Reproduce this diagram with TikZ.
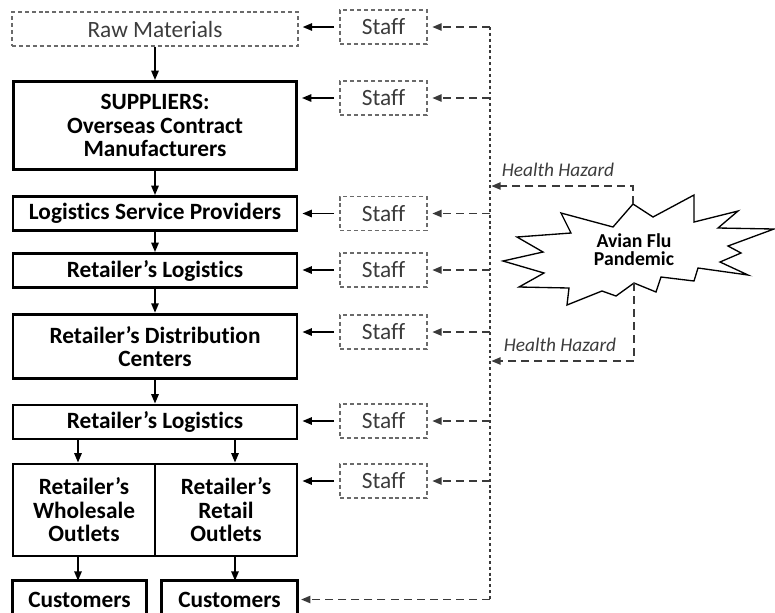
\documentclass[tikz,border=0pt]{standalone}
\usepackage{fontspec}
\setmainfont{Carlito}[Ligatures={NoCommon}]
\usetikzlibrary{arrows.meta}

\definecolor{dashgray}{HTML}{6A6A6A}
\definecolor{textgray}{HTML}{3C3C3C}
\definecolor{feedgray}{HTML}{3A3A3A}

\tikzset{
  mainbox/.style={draw=black, line width=2.2pt, inner sep=0pt, align=center,
    font=\fontsize{17.5}{17.6}\selectfont\bfseries, text=black},
  endbox/.style={inner sep=0pt, align=center, text height=17pt, text depth=0pt,
    font=\fontsize{17.5}{17.6}\selectfont\bfseries, text=black},
  frame/.style={draw=black, line width=2.2pt},
  dashbox/.style={draw=dashgray, line width=1pt, dash pattern=on 3pt off 2.2pt,
    inner sep=0pt, align=center, font=\fontsize{17.5}{18}\selectfont, text=textgray},
  tip/.tip={Triangle[length=7pt,width=5.5pt]},
  flow/.style={line width=1.2pt, -tip},
  feed/.style={draw=feedgray, line width=1.2pt, dash pattern=on 6pt off 3.8pt, -tip,
    shorten >=3.5pt},
  spine/.style={draw=feedgray, line width=1.2pt, dash pattern=on 2.2pt off 2.2pt},
  hazlabel/.style={font=\fontsize{14.5}{16}\selectfont\itshape, text=textgray, inner sep=0pt},
  starline/.style={draw=black, line width=1pt, line join=miter},
}

\begin{document}
\begin{tikzpicture}[x=0.75pt,y=-0.75pt]
  \useasboundingbox (0,0) rectangle (775,612);
  \clip (0,0) rectangle (775,612);

  % supply chain stages
  \node[dashbox, minimum width=214.5pt, minimum height=25.5pt]
    (raw) at (155,29) {Raw Materials};
  \node[mainbox, minimum width=212.25pt, minimum height=66pt]
    (sup) at (155,125.5) {SUPPLIERS:\\Overseas Contract\\Manufacturers};
  \node[mainbox, minimum width=213pt, minimum height=25.5pt]
    (lsp) at (155,213.5) {Logistics Service Providers};
  \node[mainbox, minimum width=213pt, minimum height=25.5pt]
    (rla) at (155,270.5) {Retailer’s Logistics};
  \node[mainbox, minimum width=213pt, minimum height=48.5pt]
    (rdc) at (155,346.5) {Retailer’s Distribution\\Centers};
  \node[mainbox, minimum width=213pt, minimum height=25.5pt]
    (rlb) at (155,422) {Retailer’s Logistics};
  \node[mainbox, minimum width=106.5pt, minimum height=69pt]
    (whole) at (84,510) {Retailer’s\\Wholesale\\Outlets};
  \node[mainbox, minimum width=106.5pt, minimum height=69pt]
    (retail) at (226,510) {Retailer’s\\Retail\\Outlets};

  % customer boxes, running past the lower edge
  \node[endbox, minimum width=100pt, minimum height=22.5pt]
    (custa) at (79.5,596) {Customers};
  \node[endbox, minimum width=101pt, minimum height=22.5pt]
    (custb) at (229.5,596) {Customers};
  \draw[frame] (custa.south west) ++(0,8) |- (custa.north east) -- ++(0,40);
  \draw[frame] (custb.south west) ++(0,8) |- (custb.north east) -- ++(0,40);

  % staff boxes
  \node[dashbox, minimum width=65.25pt, minimum height=25.5pt] (sa) at (383.5,27) {Staff};
  \node[dashbox, minimum width=65.25pt, minimum height=25.5pt] (sb) at (383.5,98) {Staff};
  \node[dashbox, minimum width=65.25pt, minimum height=25.5pt] (sc) at (383.5,213.5) {Staff};
  \node[dashbox, minimum width=65.25pt, minimum height=25.5pt] (sd) at (383.5,270) {Staff};
  \node[dashbox, minimum width=65.25pt, minimum height=25.5pt] (se) at (383.5,332) {Staff};
  \node[dashbox, minimum width=65.25pt, minimum height=25.5pt] (sf) at (383.5,421) {Staff};
  \node[dashbox, minimum width=65.25pt, minimum height=25.5pt] (sg) at (383.5,481) {Staff};

  % flow down the chain
  \coordinate (wa) at (78,0);
  \coordinate (ra) at (235,0);
  \draw[flow] (raw.south) -- (sup.north);
  \draw[flow] (sup.south) -- (lsp.north);
  \draw[flow] (lsp.south) -- (rla.north);
  \draw[flow] (rla.south) -- (rdc.north);
  \draw[flow] (rdc.south) -- (rlb.north);
  \draw[flow] (rlb.south -| wa) -- (whole.north -| wa);
  \draw[flow] (rlb.south -| ra) -- (retail.north -| ra);
  \draw[flow] (whole.south -| wa) -- (custa.north -| wa);
  \draw[flow] (retail.south -| ra) -- (custb.north -| ra);

  % staff feeding each stage
  \foreach \s/\t in {sa/raw, sb/sup, sc/lsp, sd/rla, se/rdc, sf/rlb, sg/retail}
    \draw[flow, shorten <=4pt, shorten >=3pt] (\s.west) -- (\s.west -| \t.east);

  % health hazard spine
  \coordinate (spinetop) at (490,27);
  \coordinate (spinebot) at (490,599.5);
  \draw[spine] (spinetop) -- (spinebot);
  \foreach \s in {sa, sb, sc, sd, se, sf, sg}
    \draw[feed] (\s.east -| spinetop) -- (\s.east);
  \draw[feed, shorten >=3pt] (spinebot) -- (spinebot -| custb.east);

  % pandemic star
  \draw[starline]
    (633,204) coordinate (startop) -- (653,217) -- (694,195) -- (694,222) -- (738,211)
    -- (718,228) -- (774,229) -- (728,246) -- (741,253) -- (720,262) -- (748,275)
    -- (698,268) -- (694,281) -- (661,277) -- (656,292)
    -- (634,283) coordinate (starbot) -- (616,296) -- (602,291) -- (567,305)
    -- (569,288) -- (519,287) -- (544,273) -- (503,261) -- (543,252) -- (517,237)
    -- (571,233) -- (561,213) -- (613,227) -- cycle;
  \node[font=\fontsize{14.8}{13.5}\selectfont\bfseries, align=center, inner sep=0pt]
    (avian) at (634,250) {Avian Flu\\Pandemic};

  % hazard arrows from the star to the spine
  \coordinate (hza) at (490,186);
  \coordinate (hzb) at (490,361);
  \draw[feed, shorten >=1pt] (startop) |- (hza);
  \draw[feed, shorten >=1pt] (starbot) |- (hzb);
  \node[hazlabel] (hla) at (558,170) {Health Hazard};
  \node[hazlabel] (hlb) at (560,345) {Health Hazard};
\end{tikzpicture}
\end{document}
